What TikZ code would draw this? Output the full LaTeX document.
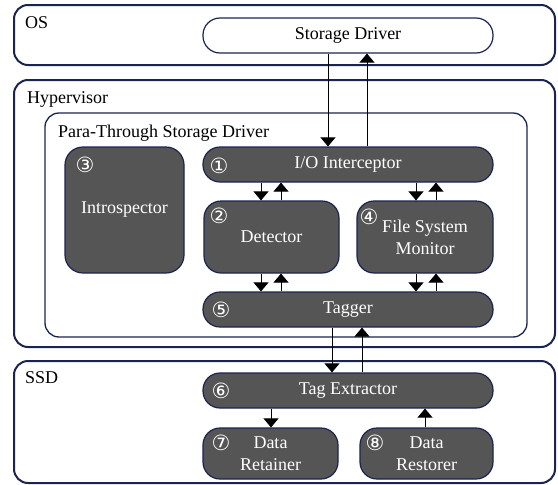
\documentclass[tikz,border=0pt]{standalone}
\usepackage{fontspec}
\setmainfont{Liberation Serif}
\newfontfamily\cnumfont{DejaVu Sans}
\usetikzlibrary{arrows.meta}
\definecolor{navy}{HTML}{1B2450}
\definecolor{boxgray}{HTML}{555555}
\tikzset{
 outer/.style={draw=navy, line width=2pt, rounded corners=14pt, fill=white, inner sep=0pt},
 innerbox/.style={draw=navy, line width=1.3pt, rounded corners=14pt, inner sep=0pt},
 dark/.style={draw=navy, line width=1.2pt, fill=boxgray, text=white, inner sep=0pt, align=center, rounded corners=17pt},
 whitepill/.style={draw=navy, line width=1.2pt, fill=white, inner sep=0pt, rounded corners=17pt},
 lbl/.style={anchor=base west, inner sep=0pt},
 num/.style={text=white, inner sep=0pt, font=\cnumfont\fontsize{21}{21}\selectfont},
 arr/.style={draw=black, line width=0.9pt, -{Triangle[width=15pt,length=9pt]}},
}
\begin{document}
\begin{tikzpicture}[x=1pt,y=-1pt,font=\fontsize{18}{22}\selectfont]
\useasboundingbox (0,0) rectangle (558,485);
% containers
\node[outer, minimum width=541pt, minimum height=60pt] (os) at (284.5,35) {};
\node[outer, minimum width=541pt, minimum height=267pt] (hyp) at (284.5,213.5) {};
\node[outer, minimum width=541pt, minimum height=122pt] (ssd) at (284.5,422) {};
\node[innerbox, minimum width=482pt, minimum height=224pt] (para) at (286,225) {};
\node[lbl] (oslbl) at (25,28) {OS};
\node[lbl] (hyplbl) at (27,103) {Hypervisor};
\node[lbl] (paralbl) at (58,137) {Para-Through Storage Driver};
\node[lbl] (ssdlbl) at (25,383) {SSD};
% boxes
\node[whitepill, minimum width=290pt, minimum height=35pt] (sd) at (348,35.5) {Storage Driver};
\node[dark, minimum width=290pt, minimum height=35pt] (io) at (348,164.5) {I/O Interceptor};
\node[dark, rounded corners=18pt, minimum width=119pt, minimum height=126pt] (intro) at (124.5,210) {Introspector};
\node[dark, minimum width=135pt, minimum height=72pt] (det) at (271.5,237) {Detector};
\node[dark, minimum width=136pt, minimum height=72pt] (fsm) at (425,237) {File System\\Monitor};
\node[dark, minimum width=290pt, minimum height=35pt] (tag) at (348,309.5) {Tagger};
\node[dark, minimum width=290pt, minimum height=35pt] (tex) at (348,390.5) {Tag Extractor};
\node[dark, minimum width=135pt, minimum height=51pt] (ret) at (270.5,453.5) {Data\\Retainer};
\node[dark, minimum width=133pt, minimum height=51pt] (res) at (426.5,453.5) {Data\\Restorer};
% circled numbers
\node[num] (n1) at (219,166) {①};
\node[num] (n2) at (219,216) {②};
\node[num] (n3) at (85,165) {③};
\node[num] (n4) at (369,217) {④};
\node[num] (n5) at (221,309.5) {⑤};
\node[num] (n6) at (221,391) {⑥};
\node[num] (n7) at (221,443) {⑦};
\node[num] (n8) at (375,443) {⑧};
% connectors
\draw[arr] (sd.south -| 328,0) -- (io.north -| 328,0);
\draw[arr] (io.north -| 367,0) -- (sd.south -| 367,0);
\draw[arr] (io.south -| 261,0) -- (det.north -| 261,0);
\draw[arr] (det.north -| 281,0) -- (io.south -| 281,0);
\draw[arr] (io.south -| 416,0) -- (fsm.north -| 416,0);
\draw[arr] (fsm.north -| 436,0) -- (io.south -| 436,0);
\draw[arr] (det.south -| 261,0) -- (tag.north -| 261,0);
\draw[arr] (tag.north -| 281,0) -- (det.south -| 281,0);
\draw[arr] (fsm.south -| 416,0) -- (tag.north -| 416,0);
\draw[arr] (tag.north -| 436,0) -- (fsm.south -| 436,0);
\draw[arr] (tag.south -| 332,0) -- (tex.north -| 332,0);
\draw[arr] (tex.north -| 362,0) -- (tag.south -| 362,0);
\draw[arr] (tex.south -| 271,0) -- (ret.north -| 271,0);
\draw[arr] (res.north -| 425,0) -- (tex.south -| 425,0);
\end{tikzpicture}
\end{document}
